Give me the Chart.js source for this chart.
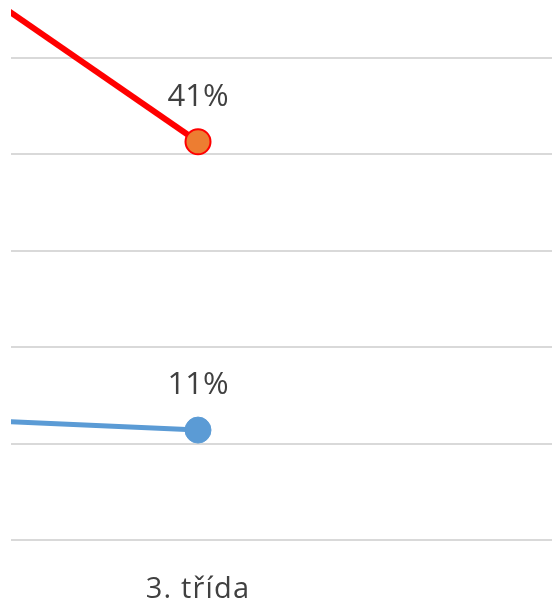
<!DOCTYPE html>
<html>
<head>
<meta charset="utf-8">
<script src="https://cdn.jsdelivr.net/npm/chart.js@4.4.1/dist/chart.umd.min.js"></script>
<style>
  html, body { margin: 0; padding: 0; background: #ffffff; overflow: hidden; }
  #wrap { position: relative; width: 552px; height: 604px; }
</style>
</head>
<body>
<div id="wrap"><canvas id="c"></canvas></div>
<script>
// Data (values in %)
const categories = ["2. třída", "3. třída"];
const seriesRed = [60, 41.3];
const seriesBlue = [12.6, 11.4];
const yTicks = [0, 10, 20, 30, 40, 50];

const FONT = "'Open Sans', 'Liberation Sans', sans-serif";

const toPoints = arr => arr.map((v, i) => ({ x: i, y: v }));

const spacing = {
  id: 'spacing',
  beforeDraw(chart) { chart.ctx.letterSpacing = '1.2px'; }
};

const dataLabels = {
  id: 'dataLabels',
  afterDatasetsDraw(chart) {
    const ctx = chart.ctx;
    ctx.save();
    ctx.letterSpacing = '0px';
    ctx.font = "31px " + FONT;
    ctx.fillStyle = '#404040';
    ctx.textAlign = 'center';
    ctx.textBaseline = 'middle';
    chart.data.datasets.forEach((ds, di) => {
      const meta = chart.getDatasetMeta(di);
      meta.data.forEach((pt, i) => {
        const v = ds.data[i].y;
        if (pt.x < chart.chartArea.left || pt.x > chart.chartArea.right) return;
        ctx.fillText(Math.round(v) + '%', pt.x, pt.y - 45);
      });
    });
    ctx.restore();
  }
};

new Chart(document.getElementById('c'), {
  type: 'line',
  data: {
    datasets: [
      {
        label: 'A',
        data: toPoints(seriesRed),
        borderColor: '#FF0000',
        borderWidth: 6,
        pointRadius: 12.5,
        pointBackgroundColor: '#ED7D31',
        pointBorderColor: '#FF0000',
        pointBorderWidth: 2,
        tension: 0
      },
      {
        label: 'B',
        data: toPoints(seriesBlue),
        borderColor: '#5B9BD5',
        borderWidth: 5,
        pointRadius: 13,
        pointBackgroundColor: '#5B9BD5',
        pointBorderColor: '#5B9BD5',
        pointBorderWidth: 1,
        tension: 0
      }
    ]
  },
  options: {
    responsive: true,
    maintainAspectRatio: false,
    animation: false,
    devicePixelRatio: 1,
    layout: { autoPadding: false, padding: { left: 11, right: 0, top: 0, bottom: 0 } },
    plugins: { legend: { display: false }, tooltip: { enabled: false } },
    scales: {
      x: {
        type: 'linear',
        min: 0.2835,
        max: 2.3563,
        grid: { display: false, drawTicks: false },
        border: { display: false },
        afterBuildTicks: s => { s.ticks = [{ value: 1 }]; },
        afterFit: s => { s.height = 64; },
        ticks: {
          padding: 32,
          font: { family: FONT, size: 29 },
          color: '#404040',
          callback: v => categories[v] ?? ''
        }
      },
      y: {
        min: 0,
        max: 56.0,
        afterBuildTicks: s => { s.ticks = yTicks.map(v => ({ value: v })); },
        ticks: { display: false },
        border: { display: false },
        grid: { color: '#D9D9D9', lineWidth: 2, drawTicks: false },
        afterFit: s => { s.width = 0; }
      }
    }
  },
  plugins: [spacing, dataLabels]
});
</script>
</body>
</html>
